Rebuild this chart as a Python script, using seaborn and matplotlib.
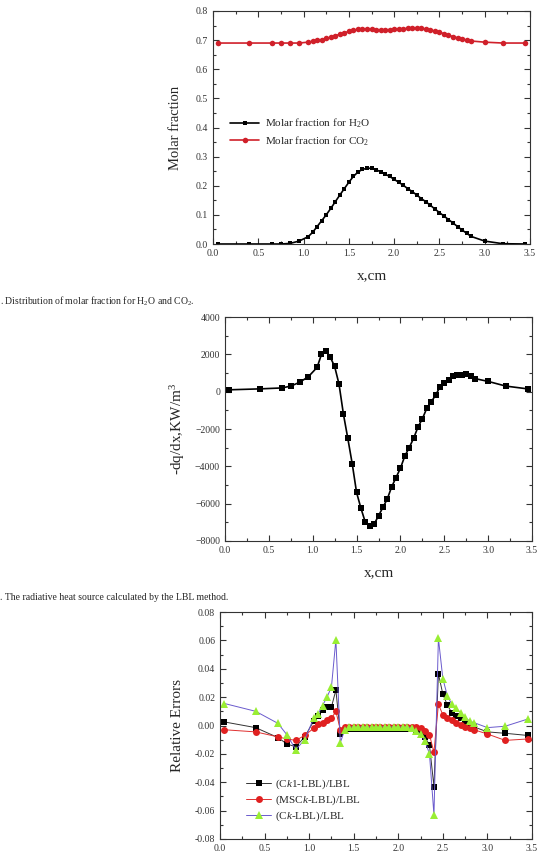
import matplotlib
matplotlib.use("Agg")
import matplotlib.pyplot as plt
import seaborn as sns
from matplotlib.ticker import MultipleLocator

# shared x grid (cm)
x = [0.05, 0.4, 0.65, 0.75, 0.85, 0.95,
     1.05, 1.1, 1.15, 1.2, 1.25, 1.3, 1.35, 1.4, 1.45, 1.5, 1.55, 1.6, 1.65, 1.7,
     1.75, 1.8, 1.85, 1.9, 1.95, 2.0, 2.05, 2.1, 2.15, 2.2, 2.25, 2.3, 2.35, 2.4,
     2.45, 2.5, 2.55, 2.6, 2.65, 2.7, 2.75, 2.8, 2.85,
     3.0, 3.2, 3.45]

h2o = [0.0, 0.0, 0.0, 0.0, 0.002, 0.01,
       0.025, 0.04, 0.06, 0.08, 0.1, 0.122, 0.145, 0.168, 0.19, 0.212, 0.232, 0.247, 0.256, 0.26,
       0.26, 0.255, 0.248, 0.24, 0.232, 0.222, 0.212, 0.202, 0.19, 0.18, 0.168, 0.156, 0.145, 0.133,
       0.12, 0.108, 0.096, 0.084, 0.072, 0.06, 0.048, 0.037, 0.026,
       0.01, 0.001, 0.0]

co2 = [0.69, 0.69, 0.69, 0.69, 0.69, 0.69,
       0.693, 0.696, 0.699, 0.702, 0.706, 0.71, 0.715, 0.72, 0.725, 0.73, 0.734, 0.737, 0.738, 0.738,
       0.737, 0.736, 0.735, 0.735, 0.736, 0.737, 0.738, 0.739, 0.74, 0.741, 0.741, 0.74, 0.738, 0.735,
       0.731, 0.727, 0.722, 0.717, 0.712, 0.708, 0.704, 0.7, 0.697,
       0.693, 0.69, 0.69]

heat = [100, 150, 200, 300, 500, 800,
        1300, 2000, 2200, 1850, 1350, 400, -1200, -2500, -3850, -5400, -6250, -7000, -7200, -7100,
        -6650, -6200, -5750, -5100, -4600, -4100, -3450, -3000, -2500, -1900, -1450, -900, -550, -200,
        250, 450, 650, 850, 900, 900, 950, 850, 700,
        550, 300, 150]

err_ck1 = [0.0025, -0.0015, -0.0085, -0.013, -0.015, -0.008,
           0.003, 0.007, 0.011, 0.013, 0.013, 0.025, -0.006, -0.003, -0.0025, -0.0025, -0.0025, -0.0025, -0.0025, -0.0025,
           -0.0025, -0.0025, -0.0025, -0.0025, -0.0025, -0.0025, -0.0025, -0.0025, -0.0025, -0.003, -0.004, -0.008, -0.014, -0.043,
           0.0365, 0.022, 0.0145, 0.009, 0.007, 0.005, 0.002, 0.0005, -0.001,
           -0.0045, -0.0055, -0.007]

err_msck = [-0.003, -0.0045, -0.008, -0.0095, -0.0105, -0.007,
            -0.002, 0.001, 0.002, 0.004, 0.005, 0.010, -0.003, -0.001, -0.0008, -0.0008, -0.0008, -0.0008, -0.0008, -0.0008,
            -0.0008, -0.0008, -0.0008, -0.0008, -0.0008, -0.0008, -0.0008, -0.0008, -0.0008, -0.001, -0.002, -0.004, -0.0065, -0.019,
            0.015, 0.0075, 0.0055, 0.004, 0.002, 0.0005, -0.001, -0.002, -0.003,
            -0.006, -0.0105, -0.0095]

err_ck = [0.0155, 0.010, 0.0015, -0.0065, -0.017, -0.010,
          0.005, 0.008, 0.014, 0.020, 0.027, 0.0605, -0.012, -0.003, -0.0012, -0.001, -0.001, -0.001, -0.001, -0.001,
          -0.001, -0.001, -0.001, -0.001, -0.001, -0.001, -0.001, -0.001, -0.0015, -0.004, -0.006, -0.011, -0.020, -0.063,
          0.0615, 0.033, 0.021, 0.015, 0.012, 0.009, 0.006, 0.003, 0.002,
          -0.0015, -0.0005, 0.0045]

sns.set_style("ticks")
plt.rcParams['font.family'] = ['Liberation Serif', 'DejaVu Serif']
plt.rcParams['mathtext.fontset'] = 'custom'
plt.rcParams['mathtext.rm'] = 'Liberation Serif'
plt.rcParams['mathtext.it'] = 'Liberation Serif:italic'

fig = plt.figure(figsize=(5.41, 8.67), dpi=100)
W, H = 541.0, 867.0

def make_axes(left, right, top, bottom):
    return fig.add_axes([left / W, 1 - bottom / H, (right - left) / W, (bottom - top) / H])

def style(ax, ymajor, yminor):
    ax.set_xlim(0, 3.5)
    ax.xaxis.set_major_locator(MultipleLocator(0.5))
    ax.xaxis.set_minor_locator(MultipleLocator(0.25))
    ax.yaxis.set_major_locator(MultipleLocator(ymajor))
    ax.yaxis.set_minor_locator(MultipleLocator(yminor))
    ax.tick_params(which='both', direction='in', top=True, right=True, labelsize=7, width=0.8, colors='#333333')
    ax.tick_params(which='major', length=4)
    ax.tick_params(which='minor', length=2)
    for s in ax.spines.values():
        s.set_linewidth(0.8)
        s.set_color('#333333')
    ax.set_xlabel("x,cm", fontsize=11, labelpad=8)

# panel 1
ax1 = make_axes(213, 530, 11, 244)
sns.lineplot(x=x, y=h2o, ax=ax1, color='black', marker='s', markersize=3.5, markeredgewidth=0,
             linewidth=1.2, label='Molar fraction for H$_2$O')
sns.lineplot(x=x, y=co2, ax=ax1, color='#d0202a', marker='o', markersize=4, markeredgewidth=0,
             linewidth=1.2, label='Molar fraction for CO$_2$')
ax1.set_ylim(0, 0.8)
style(ax1, 0.1, 0.05)
ax1.yaxis.set_major_formatter(matplotlib.ticker.FormatStrFormatter('%.1f'))
ax1.set_ylabel("Molar fraction", fontsize=10.5, labelpad=10)
ax1.legend(loc='upper left', bbox_to_anchor=(0.04, 0.565), frameon=False, fontsize=8,
           handlelength=2.6, handletextpad=0.5, labelspacing=0.35, borderaxespad=0)

fig.text(0.0, 1 - 301 / H, ". Distribution of molar fraction for H$_2$O and CO$_2$.",
         fontsize=7, va='center', ha='left')

# panel 2
ax2 = make_axes(225, 532, 317, 541)
sns.lineplot(x=x, y=heat, ax=ax2, color='black', marker='s', markersize=4, markeredgewidth=0,
             linewidth=1.2)
ax2.set_ylim(-8000, 4000)
style(ax2, 2000, 1000)
ax2.set_ylabel("-dq/dx,KW/m$^3$", fontsize=11, labelpad=6)

fig.text(0.0, 1 - 597 / H, ". The radiative heat source calculated by the LBL method.",
         fontsize=7, va='center', ha='left')

# panel 3
ax3 = make_axes(220, 532, 612, 839)
sns.lineplot(x=x, y=err_ck1, ax=ax3, color='#333333', marker='s', markersize=5,
             markerfacecolor='black', markeredgewidth=0, linewidth=0.7, label='(C$\\mathit{k}$1-LBL)/LBL')
sns.lineplot(x=x, y=err_msck, ax=ax3, color='#e03030', marker='o', markersize=5,
             markerfacecolor='#e02020', markeredgewidth=0, linewidth=0.7, label='(MSC$\\mathit{k}$-LBL)/LBL')
sns.lineplot(x=x, y=err_ck, ax=ax3, color='#6a5acd', marker='^', markersize=5.5,
             markerfacecolor='#99ee33', markeredgewidth=0, linewidth=0.7, label='(C$\\mathit{k}$-LBL)/LBL')
ax3.set_ylim(-0.08, 0.08)
style(ax3, 0.02, 0.01)
ax3.yaxis.set_major_formatter(matplotlib.ticker.FormatStrFormatter('%.2f'))
ax3.set_ylabel("Relative Errors", fontsize=11, labelpad=8)
ax3.legend(loc='lower left', bbox_to_anchor=(0.07, 0.05), frameon=False, fontsize=8,
           handlelength=2.2, handletextpad=0.4, labelspacing=0.25, borderaxespad=0)

fig.savefig("out.png", dpi=100)
